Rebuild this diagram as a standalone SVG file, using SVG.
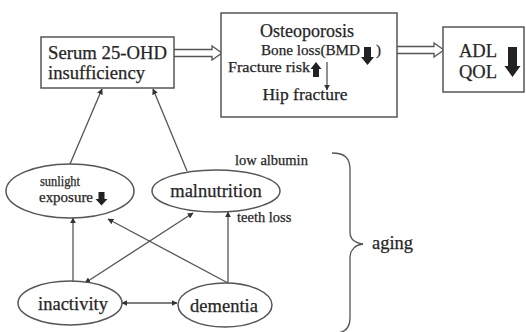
<svg xmlns="http://www.w3.org/2000/svg" width="526" height="332" viewBox="0 0 526 332" font-family="'Liberation Serif', 'DejaVu Serif', serif">
<defs>
<style>
text{font-family:'Liberation Serif','DejaVu Serif',serif;fill:#262626;stroke:#262626;stroke-width:0.25}
.box{fill:#fff;stroke:#555;stroke-width:1.5}
.el{fill:#fff;stroke:#555;stroke-width:1.5}
.ln{fill:none;stroke:#555;stroke-width:1.3}
.hollow{fill:#fff;stroke:#555;stroke-width:1.3;stroke-linejoin:miter}
.blk{fill:#222}
.big{font-size:18.5px}
.mid{font-size:15px}
.sm{font-size:14.5px}
</style>
<marker id="ah" viewBox="0 0 10 10" refX="9" refY="5" markerWidth="6" markerHeight="6" markerUnits="userSpaceOnUse" orient="auto-start-reverse">
<path d="M0 0 L10 5 L0 10 z" fill="#333"/>
</marker>
</defs>
<rect width="526" height="332" fill="#fff"/>

<g id="connectors">
<path class="hollow" d="M174 49.5 H212 V46 L222 53 L212 60 V56.5 H174"/>
<path class="hollow" d="M397 46.5 H434 V43 L444 50 L434 57 V53.5 H397"/>
<line class="ln" x1="70" y1="164" x2="102" y2="89" marker-end="url(#ah)"/>
<line class="ln" x1="187" y1="171" x2="153" y2="89" marker-end="url(#ah)"/>
<line class="ln" x1="73" y1="281" x2="73" y2="218" marker-end="url(#ah)"/>
<line class="ln" x1="228" y1="283" x2="108" y2="219" marker-end="url(#ah)"/>
<line class="ln" x1="85" y1="283" x2="193" y2="213" marker-start="url(#ah)" marker-end="url(#ah)"/>
<line class="ln" x1="228" y1="283" x2="228" y2="212" marker-end="url(#ah)"/>
<line class="ln" x1="122" y1="303" x2="177" y2="303" marker-start="url(#ah)" marker-end="url(#ah)"/>
<path class="ln" d="M332 153 C345 153 350 158 350 170 L350 232 C350 240 355 243 363 244 C355 245 350 250 350 258 L350 318 C350 328 345 332 338 333"/>
</g>

<g id="serum">
<rect class="box" x="41" y="37" width="133" height="51"/>
<text class="big" x="48" y="59" textLength="119" lengthAdjust="spacingAndGlyphs">Serum 25-OHD</text>
<text class="big" x="48" y="79" textLength="97" lengthAdjust="spacingAndGlyphs">insufficiency</text>
</g>

<g id="osteoporosis">
<rect class="box" x="221" y="13" width="176" height="104"/>
<text x="307" y="37" font-size="18" text-anchor="middle">Osteoporosis</text>
<text class="mid" x="261" y="55" textLength="99" lengthAdjust="spacingAndGlyphs">Bone loss(BMD</text>
<path class="blk" d="M364 47 h7 v10 h3 l-6.5 8 l-6.5 -8 h3 z"/>
<text class="mid" x="376" y="55">)</text>
<text x="228" y="72" font-size="14" textLength="82" lengthAdjust="spacingAndGlyphs">Fracture risk</text>
<path class="blk" d="M313 77 h6 v-8 h2.5 l-5.5 -7 l-5.5 7 h2.5 z"/>
<line class="ln" x1="327" y1="62" x2="327" y2="90" marker-end="url(#ah)"/>
<text x="305" y="100" font-size="17.5" text-anchor="middle">Hip fracture</text>
</g>

<g id="adl">
<rect class="box" x="443" y="27" width="81" height="65"/>
<text class="big" x="459" y="57">ADL</text>
<text class="big" x="459" y="78">QOL</text>
<path class="blk" d="M508 47 h9 v19 h3.5 l-8 11 l-8 -11 h3.5 z"/>
</g>

<g id="sunlight">
<ellipse class="el" cx="70" cy="191" rx="64" ry="27"/>
<text x="40" y="186" font-size="14" textLength="40" lengthAdjust="spacingAndGlyphs">sunlight</text>
<text x="39" y="202" font-size="14.5" textLength="54" lengthAdjust="spacingAndGlyphs">exposure</text>
<path class="blk" d="M98.5 192 h6 v7 h3 l-6 6.5 l-6 -6.5 h3 z"/>
</g>

<g id="malnutrition">
<ellipse class="el" cx="216" cy="191" rx="64" ry="21"/>
<text class="big" x="216" y="197" text-anchor="middle">malnutrition</text>
</g>

<g id="inactivity">
<ellipse class="el" cx="70" cy="303" rx="52" ry="22"/>
<text class="big" x="73" y="310" text-anchor="middle">inactivity</text>
</g>

<g id="dementia">
<ellipse class="el" cx="225" cy="305" rx="47" ry="22"/>
<text class="big" x="224" y="312" text-anchor="middle">dementia</text>
</g>

<g id="labels">
<text class="sm" x="235" y="165">low albumin</text>
<text class="sm" x="237" y="222">teeth loss</text>
<text class="big" x="372" y="249">aging</text>
</g>
</svg>
